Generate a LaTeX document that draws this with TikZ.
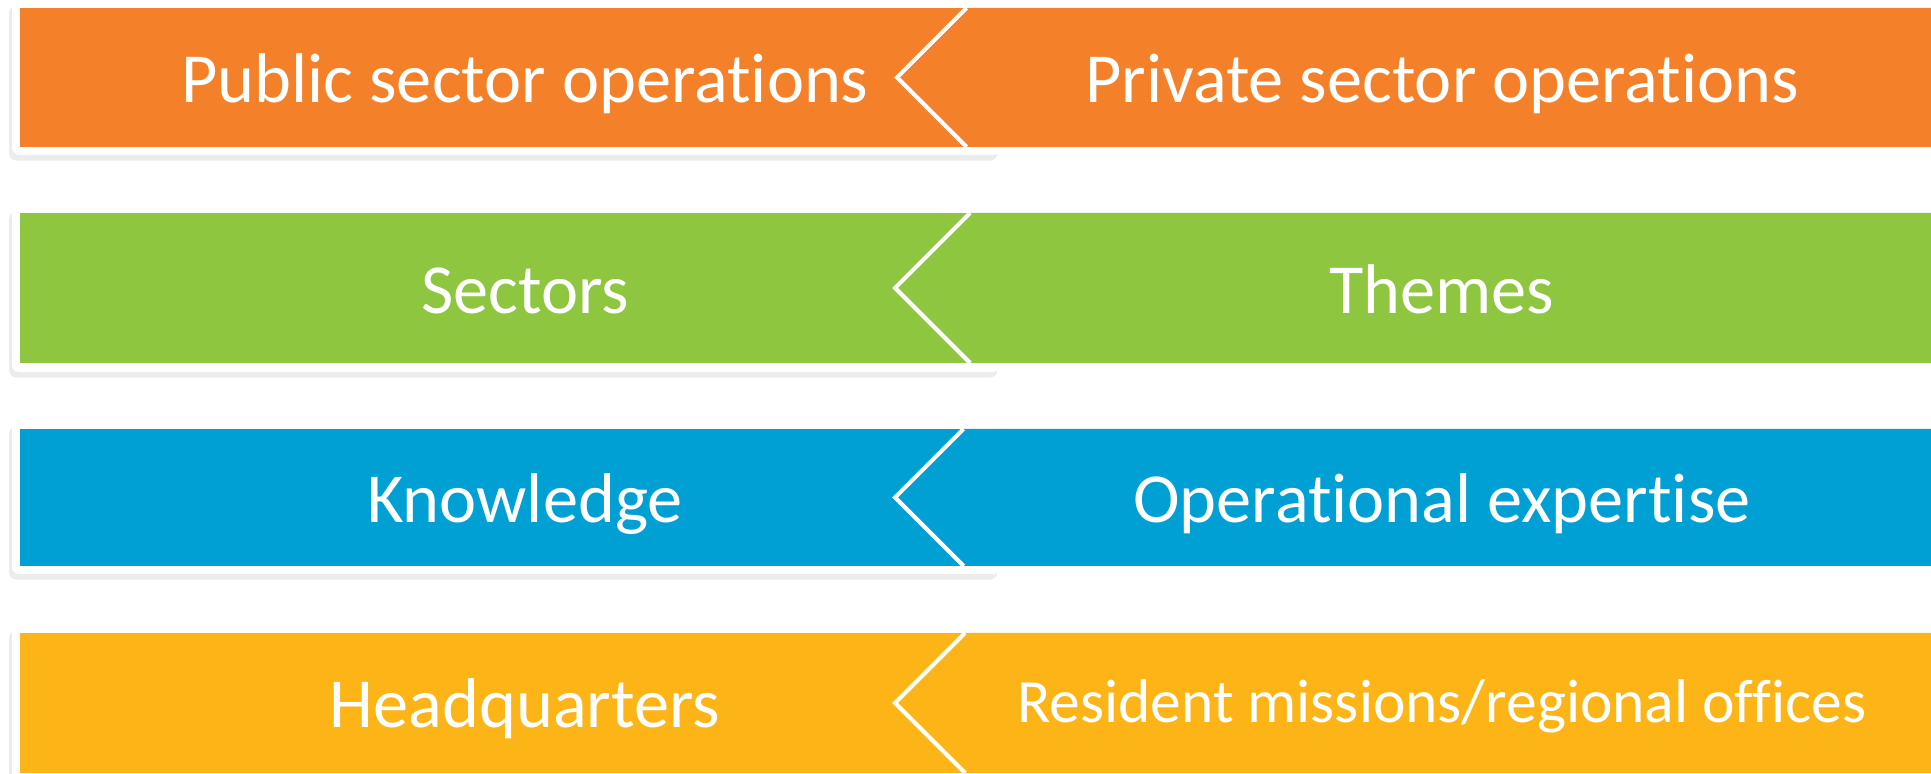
\documentclass[tikz,border=0pt]{standalone}
\usepackage{fontspec}
\setmainfont{Carlito}[Ligatures=NoCommon]
\usepackage{tikz}
\usetikzlibrary{shadows}
\definecolor{rowOrange}{RGB}{244,129,42}
\definecolor{rowGreen}{RGB}{142,198,64}
\definecolor{rowBlue}{RGB}{0,160,213}
\definecolor{rowYellow}{RGB}{252,180,22}

\begin{document}
\begin{tikzpicture}[x=0.01cm,y=-0.01cm,
		frame/.style={fill=white,rounded corners=2pt,drop shadow={shadow xshift=-0.8pt,shadow yshift=-1.6pt,opacity=0.15}},
		notch/.style={draw=white,line width=1.2pt,line join=miter},
		rowtext/.style={text=white,anchor=base,inner sep=0pt,font=\fontsize{20}{24}\selectfont},
		smalltext/.style={rowtext,font=\fontsize{17.5}{20}\selectfont}]
		\useasboundingbox (0,0) rectangle (1931,774);
		\clip (0,0) rectangle (1931,774);
		
		\path[frame] (12,0) rectangle (1000,155);
		\fill[rowOrange] (20,8) rectangle (992,147);
		\fill[rowOrange] (966.5,8) -- (1940,8) -- (1940,147) -- (966.5,147) -- (897,77.5) -- cycle;
		\draw[notch] (966.5,8) -- (897,77.5) -- (966.5,147);
		\node[rowtext] (pubops) at (525,103) {Public sector operations};
		\node[rowtext] (privops) at (1442,103) {Private sector operations};
		
		\path[frame] (12,206) rectangle (1000,372);
		\fill[rowGreen] (20,213) rectangle (992,363);
		\fill[rowGreen] (970,213) -- (1940,213) -- (1940,363) -- (970,363) -- (895,288) -- cycle;
		\draw[notch] (970,213) -- (895,288) -- (970,363);
		\node[rowtext] (sectors) at (525,314) {Sectors};
		\node[rowtext] (themes) at (1442,314) {Themes};
		
		\path[frame] (12,421) rectangle (1000,574);
		\fill[rowBlue] (20,429) rectangle (992,566);
		\fill[rowBlue] (963.5,429) -- (1940,429) -- (1940,566) -- (963.5,566) -- (895,497.5) -- cycle;
		\draw[notch] (963.5,429) -- (895,497.5) -- (963.5,566);
		\node[rowtext] (knowledge) at (525,523) {Knowledge};
		\node[rowtext] (opexp) at (1442,523) {Operational expertise};
		
		\path[frame] (12,625) rectangle (1000,781);
		\fill[rowYellow] (20,633) rectangle (992,773);
		\fill[rowYellow] (965,633) -- (1940,633) -- (1940,773) -- (965,773) -- (895,703) -- cycle;
		\draw[notch] (965,633) -- (895,703) -- (965,773);
		\node[rowtext] (hq) at (525,728) {Headquarters};
		\node[smalltext] (resmis) at (1442,723) {Resident missions/regional offices};
		
	\end{tikzpicture}
\end{document}
